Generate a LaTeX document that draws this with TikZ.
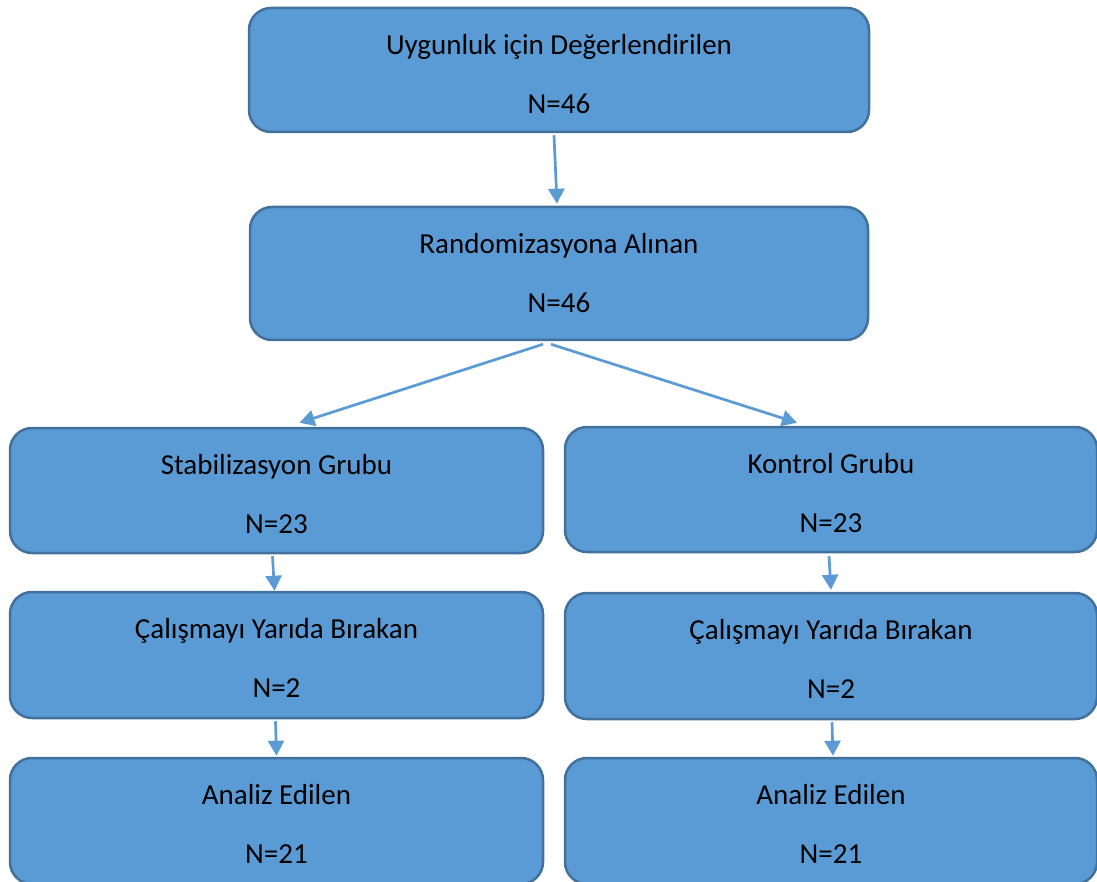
\documentclass[tikz,border=0pt]{standalone}
\usepackage{fontspec}
\setmainfont{Carlito}
\usetikzlibrary{arrows.meta}
\definecolor{boxfill}{HTML}{5B9BD5}
\definecolor{boxline}{HTML}{41719C}
\begin{document}
\begin{tikzpicture}[x=1pt,y=-1pt,
  flowbox/.style={draw=boxline, line width=2.5pt, fill=boxfill, rounded corners=22pt,
    inner sep=0pt},
  boxtext/.style={inner sep=0pt, align=center, text=black,
    font=\fontsize{29}{59}\selectfont},
  conn/.style={draw=boxfill, line width=2.7pt,
    -{Triangle[length=15pt,width=16pt]}}]
\useasboundingbox (0,0) rectangle (1097,882);
\clip (0,0) rectangle (1097,882);
\node[flowbox, minimum width=620pt, minimum height=124pt] (top) at (559,70) {};
\node[flowbox, minimum width=618pt, minimum height=133pt] (rand) at (559,273.5) {};
\node[flowbox, minimum width=533pt, minimum height=125pt] (stab) at (276.5,490.5) {};
\node[flowbox, minimum width=532pt, minimum height=125pt] (kont) at (831,489.5) {};
\node[flowbox, minimum width=533pt, minimum height=126pt] (cal1) at (276.5,655) {};
\node[flowbox, minimum width=532pt, minimum height=126pt] (cal2) at (831,656) {};
\node[flowbox, minimum width=533pt, minimum height=126pt] (an1) at (276.5,821) {};
\node[flowbox, minimum width=532pt, minimum height=126pt] (an2) at (831,821) {};
\node[boxtext] (topT) at ([yshift=-67pt]top.north) {Uygunluk için Değerlendirilen\\N=46};
\node[boxtext] (randT) at ([yshift=-67pt]rand.north) {Randomizasyona Alınan\\N=46};
\node[boxtext] (stabT) at ([yshift=-67pt]stab.north) {Stabilizasyon Grubu\\N=23};
\node[boxtext] (kontT) at ([yshift=-67pt]kont.north) {Kontrol Grubu\\N=23};
\node[boxtext] (cal1T) at ([yshift=-67pt]cal1.north) {Çalışmayı Yarıda Bırakan\\N=2};
\node[boxtext] (cal2T) at ([yshift=-67pt]cal2.north) {Çalışmayı Yarıda Bırakan\\N=2};
\node[boxtext] (an1T) at ([yshift=-67pt]an1.north) {Analiz Edilen\\N=21};
\node[boxtext] (an2T) at ([yshift=-67pt]an2.north) {Analiz Edilen\\N=21};
\draw[conn] ([shift={(-5,2)}]top.south) -- ([shift={(-2,-2)}]rand.north);
\draw[conn] ([shift={(-16,3)}]rand.south) -- ([shift={(23,-4)}]stab.north);
\draw[conn] ([shift={(-8,3)}]rand.south) -- ([shift={(-34,-3)}]kont.north);
\draw[conn] ([shift={(-4,2)}]stab.south) -- ([shift={(-2,0)}]cal1.north);
\draw[conn] ([shift={(-2,3)}]kont.south) -- ([shift={(0,-2)}]cal2.north);
\draw[conn] ([shift={(-1,2)}]cal1.south) -- ([shift={(0,-1)}]an1.north);
\draw[conn] ([shift={(1,2)}]cal2.south) -- ([shift={(2,-1)}]an2.north);
\end{tikzpicture}
\end{document}
